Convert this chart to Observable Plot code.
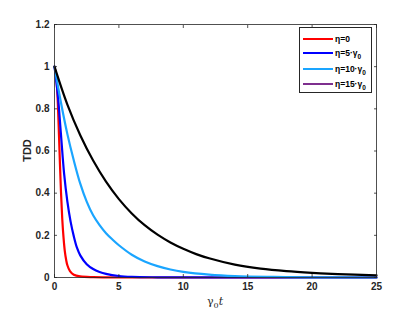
<!DOCTYPE html>
<html><head><meta charset="utf-8">
<script src="https://cdn.jsdelivr.net/npm/d3@7"></script>
<script src="https://cdn.jsdelivr.net/npm/@observablehq/plot@0.6"></script>
<style>
body{margin:0;background:#fff}
#wrap{position:relative;width:415px;height:312px;font-family:"Liberation Sans",Arial,sans-serif}
#legend{position:absolute;left:299px;top:27px;width:73px;height:66px;border:1px solid #262626;background:#fff;box-sizing:border-box}
.row{position:absolute;left:0;height:0}
.sw{position:absolute;left:3px;width:30px;height:2px;top:-1px}
.lt{position:absolute;left:35px;top:-6px;font-size:8.5px;font-weight:bold;color:#000;white-space:nowrap;line-height:12px}
.lt sub{font-size:6.5px;vertical-align:-3px;line-height:0}
</style></head><body><div id="wrap"></div>
<script>
// legend labels and colours
const seriesNames = ["η=0", "η=5·γ0", "η=10·γ0", "η=15·γ0"];
const legendColors = ["#ff0000", "#0000ff", "#1aa5ff", "#7e2f8e"];
const lineColors = ["#ff0000", "#0000ff", "#1aa5ff", "#000000"];
// ticks
const xTicks = [0, 5, 10, 15, 20, 25];
const yTicks = [0, 0.2, 0.4, 0.6, 0.8, 1, 1.2];
// curves
const tRed   = [0, 0.1, 0.2, 0.3, 0.4, 0.5, 0.6, 0.7, 0.8, 0.9, 1, 1.2, 1.5, 2, 3, 4, 6, 10, 25];
const vRed   = [1, 0.97, 0.9, 0.76, 0.58, 0.41, 0.28, 0.19, 0.125, 0.085, 0.058, 0.03, 0.013, 0.005, 0.0015, 0.0005, 0, 0, 0];
const tBlue  = [0, 0.25, 0.5, 0.75, 1, 1.25, 1.5, 1.75, 2, 2.5, 3, 3.5, 4, 5, 6, 8, 10, 15, 25];
const vBlue  = [1, 0.87, 0.68, 0.49, 0.36, 0.265, 0.195, 0.14, 0.105, 0.063, 0.04, 0.026, 0.017, 0.007, 0.003, 0.001, 0.0003, 0, 0];
const tLight = [0, 0.5, 1, 1.5, 2, 2.5, 3, 3.5, 4, 4.5, 5, 6, 7, 8, 9, 10, 12, 14, 17, 20, 25];
const vLight = [1, 0.83, 0.68, 0.555, 0.445, 0.36, 0.295, 0.248, 0.21, 0.18, 0.153, 0.108, 0.076, 0.054, 0.038, 0.027, 0.014, 0.007, 0.003, 0.001, 0];
const tBlack = [0, 1, 2, 3, 4, 5, 6, 7, 8, 9, 10, 11, 12, 14, 16, 18, 20, 22, 25];
const vBlack = [1, 0.82, 0.675, 0.555, 0.455, 0.372, 0.304, 0.248, 0.203, 0.166, 0.136, 0.111, 0.091, 0.061, 0.042, 0.03, 0.022, 0.016, 0.01];

const curves = [[tRed, vRed], [tBlue, vBlue], [tLight, vLight], [tBlack, vBlack]];
const rows = [];
curves.forEach(([ts, vs], i) => ts.forEach((t, j) => rows.push({series: seriesNames[i], t, v: vs[j]})));

const axisStyle = {fontSize: 10, fontWeight: "bold", fill: "#262626", stroke: "#262626"};
const plot = Plot.plot({
  width: 415, height: 312,
  marginLeft: 54, marginRight: 39, marginTop: 24, marginBottom: 35,
  style: {fontFamily: "Liberation Sans, Arial, sans-serif", fontSize: "10px", fontWeight: "bold", color: "#262626", background: "#fff"},
  x: {domain: [0, 25]},
  y: {domain: [0, 1.2]},
  color: {domain: seriesNames, range: lineColors},
  marks: [
    Plot.line(rows, {x: "t", y: "v", z: "series", stroke: "series", strokeWidth: 2.2, curve: "catmull-rom"}),
    Plot.frame({stroke: "#262626", strokeWidth: 0.8}),
    Plot.axisX({anchor: "bottom", ticks: xTicks, tickSize: -3, tickPadding: 8, label: null, tickFormat: d => String(d), strokeWidth: 0.8, ...axisStyle}),
    Plot.axisX({anchor: "top", ticks: xTicks, tickSize: -3, label: null, tickFormat: () => "", strokeWidth: 0.8, stroke: "#262626"}),
    Plot.axisY({anchor: "left", ticks: yTicks, tickSize: -3, tickPadding: 8, label: null, tickFormat: d => String(d), strokeWidth: 0.8, ...axisStyle}),
    Plot.axisY({anchor: "right", ticks: yTicks, tickSize: -3, label: null, tickFormat: () => "", strokeWidth: 0.8, stroke: "#262626"})
  ]
});
document.getElementById("wrap").appendChild(plot);

const svg = d3.select(plot);
svg.append("text").attr("transform", "translate(27,150.5) rotate(-90)")
  .attr("text-anchor", "middle").attr("dy", "0.35em")
  .style("font-size", "11px").style("font-weight", "bold").attr("fill", "#262626").text("TDD");
const xl = svg.append("text").attr("x", 215).attr("y", 305).attr("text-anchor", "middle")
  .style("font-family", "DejaVu Serif, serif").style("font-weight", "normal").style("font-size", "11px").attr("fill", "#262626");
xl.append("tspan").text("γ");
xl.append("tspan").attr("dy", 3).style("font-size", "8px").text("0");
xl.append("tspan").attr("dy", -3).style("font-style", "italic").text("t");

// legend
const leg = document.createElement("div");
leg.id = "legend";
const rowTops = [11, 25, 41, 56];
seriesNames.forEach((name, i) => {
  const r = document.createElement("div");
  r.className = "row"; r.style.top = rowTops[i] + "px";
  const sw = document.createElement("div"); sw.className = "sw"; sw.style.background = legendColors[i];
  const lt = document.createElement("div"); lt.className = "lt";
  if (name.endsWith("γ0")) lt.innerHTML = name.slice(0, -1) + "<sub>0</sub>"; else lt.textContent = name;
  r.appendChild(sw); r.appendChild(lt); leg.appendChild(r);
});
document.getElementById("wrap").appendChild(leg);
</script></body></html>
